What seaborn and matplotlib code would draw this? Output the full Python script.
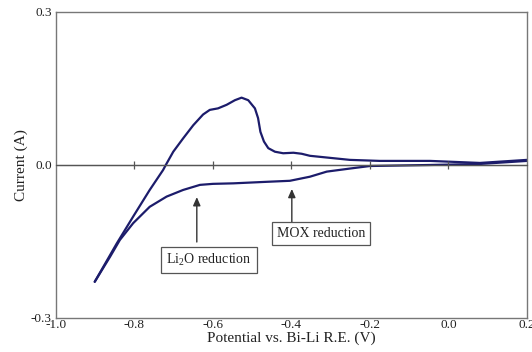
import matplotlib
matplotlib.use("Agg")
import matplotlib.pyplot as plt
import seaborn as sns
import pandas as pd

# Anodic-going branch (upper curve)
upper_v = [-0.901, -0.845, -0.803, -0.761, -0.727, -0.720, -0.701, -0.676, -0.650, -0.625, -0.608,
           -0.587, -0.565, -0.544, -0.527, -0.510, -0.493, -0.485, -0.479, -0.470, -0.459,
           -0.442, -0.421, -0.395, -0.374, -0.353, -0.302, -0.251, -0.175, -0.047, 0.080, 0.200]
upper_i = [-0.229, -0.154, -0.101, -0.049, -0.010, 0.000, 0.026, 0.052, 0.078, 0.099, 0.108,
           0.111, 0.118, 0.127, 0.132, 0.127, 0.111, 0.092, 0.065, 0.046, 0.033,
           0.026, 0.023, 0.024, 0.022, 0.018, 0.014, 0.010, 0.008, 0.008, 0.004, 0.010]
# Cathodic-going branch (lower curve)
lower_v = [0.200, 0.080, -0.047, -0.200, -0.251, -0.310, -0.353, -0.404, -0.463, -0.548,
           -0.600, -0.633, -0.676, -0.718, -0.761, -0.803, -0.837, -0.862, -0.901]
lower_i = [0.008, 0.002, 0.000, -0.002, -0.007, -0.013, -0.023, -0.031, -0.033, -0.036,
           -0.037, -0.039, -0.049, -0.062, -0.082, -0.114, -0.147, -0.180, -0.229]

x_ticks = [-1.0, -0.8, -0.6, -0.4, -0.2, 0.0, 0.2]
x_tick_labels = ["-1.0", "-0.8", "-0.6", "-0.4", "-0.2", "0.0", "0.2"]
y_ticks = [-0.3, 0.0, 0.3]
y_tick_labels = ["-0.3", "0.0", "0.3"]

annotations = ["Li$_2$O reduction", "MOX reduction"]
arrow_x = [-0.641, -0.399]
arrow_tip_y = [-0.063, -0.047]
arrow_base_y = [-0.151, -0.112]
label_x = [-0.610, -0.325]
label_y = [-0.186, -0.134]

sns.set_style("white")
plt.rcParams['font.family'] = ['Liberation Serif', 'DejaVu Serif']
plt.rcParams['mathtext.fontset'] = 'custom'
plt.rcParams['mathtext.rm'] = 'Liberation Serif'

df_u = pd.DataFrame({"v": upper_v, "i": upper_i})
df_l = pd.DataFrame({"v": lower_v, "i": lower_i})

fig = plt.figure(figsize=(5.32, 3.52), dpi=100)
ax = fig.add_axes([0.105, 0.0966, 0.8856, 0.8694])

navy = "#1c1c6b"
sns.lineplot(data=df_u, x="v", y="i", sort=False, estimator=None, color=navy, lw=1.6, ax=ax)
sns.lineplot(data=df_l, x="v", y="i", sort=False, estimator=None, color=navy, lw=1.6, ax=ax)
for line in ax.lines:
    line.set_solid_joinstyle("round")
    line.set_solid_capstyle("round")

ax.axhline(0, color="#555555", lw=0.9, zorder=1)

ax.set_xlim(-1.0, 0.2)
ax.set_ylim(-0.3, 0.3)
ax.set_xticks(x_ticks)
ax.set_xticklabels(x_tick_labels)
ax.set_yticks(y_ticks)
ax.set_yticklabels(y_tick_labels)
ax.tick_params(axis="x", length=0, labelsize=9.5, pad=1, colors="#222222")
ax.tick_params(axis="y", length=0, labelsize=9.5, pad=3, colors="#222222")
for s in ax.spines.values():
    s.set_color("#777777")
    s.set_linewidth(1.0)

ax.set_xlabel("Potential vs. Bi-Li R.E. (V)", fontsize=11, labelpad=0, color="#222222")
ax.set_ylabel("Current (A)", fontsize=11, labelpad=2, color="#222222")

# tick marks on zero line
ax2 = ax.twiny()
ax2.set_xlim(-1.0, 0.2)
ax2.set_xticks(x_ticks[1:-1])
for name, s in ax2.spines.items():
    s.set_visible(name == "bottom")
ax2.spines["bottom"].set_position(("data", 0))
ax2.spines["bottom"].set_color("#555555")
ax2.spines["bottom"].set_linewidth(0.9)
ax2.xaxis.set_ticks_position("bottom")
ax2.tick_params(axis="x", direction="inout", length=6, width=0.9, colors="#555555",
                labelbottom=False, labeltop=False)

for txt, ax_x, ty, by, lx, ly in zip(annotations, arrow_x, arrow_tip_y, arrow_base_y, label_x, label_y):
    ax.annotate("", xy=(ax_x, ty), xytext=(ax_x, by),
                arrowprops=dict(arrowstyle="-|>,head_length=0.5,head_width=0.22", color="#333333",
                                lw=1.0, shrinkA=0, shrinkB=0))
    ax.text(lx, ly, txt, ha="center", va="center", fontsize=10, color="#222222",
            bbox=dict(boxstyle="square,pad=0.35", fc="white", ec="#555555", lw=0.9))

fig.savefig("out.png", dpi=100)
